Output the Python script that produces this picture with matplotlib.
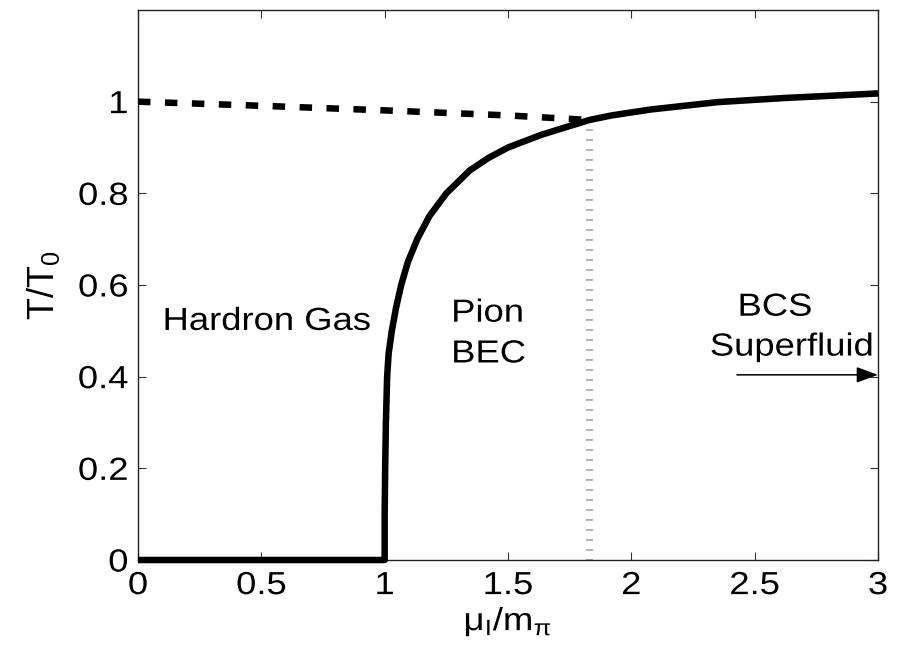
import matplotlib
matplotlib.use("Agg")
import matplotlib.pyplot as plt
from matplotlib.patheffects import AbstractPathEffect
from matplotlib.transforms import Affine2D

plt.rcParams['font.family'] = ['Liberation Sans', 'DejaVu Sans']
plt.rcParams['mathtext.fontset'] = 'custom'
plt.rcParams['mathtext.rm'] = 'Liberation Sans'
plt.rcParams['mathtext.it'] = 'Liberation Sans:italic'
plt.rcParams['lines.scale_dashes'] = False

# Phase boundary (solid): hadron gas -> pion BEC -> BCS region
mu_boundary = [0.0, 1.0, 1.0, 1.002, 1.005, 1.010, 1.016, 1.029, 1.046, 1.067, 1.094,
               1.132, 1.181, 1.25, 1.345, 1.42, 1.50, 1.637, 1.745, 1.83, 1.92, 2.08,
               2.35, 2.62, 2.89, 3.0]
t_boundary = [0.0, 0.0, 0.1, 0.2, 0.3, 0.40, 0.45, 0.50, 0.55, 0.60, 0.65,
              0.70, 0.75, 0.80, 0.85, 0.877, 0.90, 0.928, 0.946, 0.96, 0.970, 0.983,
              0.999, 1.008, 1.015, 1.018]

# Deconfinement crossover (dashed)
mu_cross = [0.0, 0.5, 1.0, 1.5, 1.83]
t_cross = [1.0, 0.991, 0.981, 0.970, 0.96]

# BEC-BCS crossover position
mu_bcs = 1.83

xticks = [0, 0.5, 1, 1.5, 2, 2.5, 3]
xticklabels = ['0', '0.5', '1', '1.5', '2', '2.5', '3']
yticks = [0, 0.2, 0.4, 0.6, 0.8, 1.0]
yticklabels = ['0', '0.2', '0.4', '0.6', '0.8', '1']


class WideText(AbstractPathEffect):
    """Draw text glyphs widened horizontally about a chosen anchor."""

    def __init__(self, sx=1.14, anchor='center'):
        super().__init__()
        self.sx = sx
        self.anchor = anchor

    def draw_path(self, renderer, gc, tpath, affine, rgbFace=None):
        bb = tpath.get_extents(affine)
        ref = {'left': bb.x0, 'center': 0.5 * (bb.x0 + bb.x1), 'right': bb.x1}[self.anchor]
        widened = affine + Affine2D().translate(-ref, 0).scale(self.sx, 1).translate(ref, 0)
        renderer.draw_path(gc, tpath, widened, rgbFace)


SX = 1.14
FS = 23

fig = plt.figure(figsize=(9.01, 6.57), dpi=100)
ax = fig.add_axes([138/901, 97/657, 740/901, 550/657])

ax.plot(mu_boundary, t_boundary, color='black', lw=4.7, solid_capstyle='butt',
        solid_joinstyle='round', clip_on=False, zorder=3)
ax.plot(mu_cross, t_cross, color='black', lw=4.7, dashes=(9.0, 10.4),
        dash_capstyle='butt', zorder=3)
ax.plot([mu_bcs, mu_bcs], [0, t_boundary[mu_boundary.index(mu_bcs)] - 0.02],
        color='#6e6e6e', lw=5.0, dashes=(0.75, 6.45), dash_capstyle='butt', zorder=2)

labels = [
    ax.text(0.101, 0.502, 'Hardron Gas', fontsize=FS, ha='left', va='baseline'),
    ax.text(1.271, 0.520, 'Pion', fontsize=FS, ha='left', va='baseline'),
    ax.text(1.271, 0.431, 'BEC', fontsize=FS, ha='left', va='baseline'),
    ax.text(2.432, 0.533, 'BCS', fontsize=FS, ha='left', va='baseline'),
    ax.text(2.319, 0.446, 'Superfluid', fontsize=FS, ha='left', va='baseline'),
]
for t in labels:
    t.set_path_effects([WideText(SX, 'left')])

ax.annotate('', xy=(3.0, 0.404), xytext=(2.428, 0.404),
            arrowprops=dict(arrowstyle='-|>,head_length=0.6,head_width=0.22',
                            color='black', lw=1.1, mutation_scale=22,
                            shrinkA=0, shrinkB=0))

ax.set_xlim(0, 3)
ax.set_ylim(0, 1.2)
ax.set_xticks(xticks)
ax.set_xticklabels(xticklabels)
ax.set_yticks(yticks)
ax.set_yticklabels(yticklabels)
ax.tick_params(direction='in', length=6, width=0.8, top=True, right=True,
               labelsize=FS, color='#333333')
ax.tick_params(axis='x', pad=8)
ax.tick_params(axis='y', pad=7)
for lbl in ax.get_xticklabels():
    lbl.set_path_effects([WideText(SX, 'center')])
for lbl in ax.get_yticklabels():
    lbl.set_path_effects([WideText(SX, 'right')])
for s in ax.spines.values():
    s.set_linewidth(1.0)
    s.set_color('#222222')

xl = ax.set_xlabel(r'$\mathrm{μ_I/m_π}$', fontsize=FS, labelpad=3)
xl.set_path_effects([WideText(SX, 'center')])
ax.set_ylabel(r'$\mathrm{T/T_0}$', fontsize=26)
ax.yaxis.set_label_coords(-0.103, 0.5)

fig.savefig('out.png', dpi=100)
